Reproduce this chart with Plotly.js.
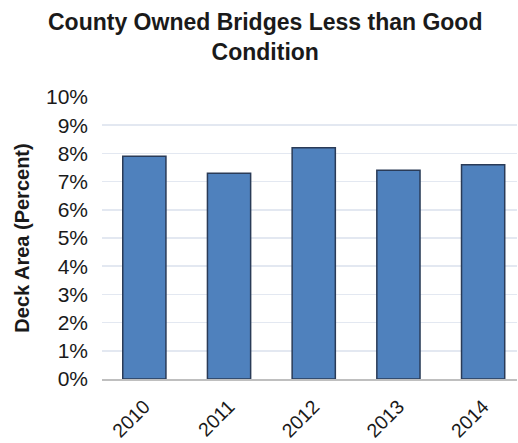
<!DOCTYPE html>
<html>
<head>
<meta charset="utf-8">
<script src="https://cdn.plot.ly/plotly-3.0.1.min.js"></script>
<style>
  html, body { margin: 0; padding: 0; background: #ffffff; }
  #chart { width: 518px; height: 443px; }
</style>
</head>
<body>
<div id="chart"></div>
<script>
const years = ["2010", "2011", "2012", "2013", "2014"];
const deckAreaPercent = [7.9, 7.3, 8.2, 7.4, 7.6];
const yTickValues = [0, 1, 2, 3, 4, 5, 6, 7, 8, 9, 10];
const yTickLabels = ["0%", "1%", "2%", "3%", "4%", "5%", "6%", "7%", "8%", "9%", "10%"];
const chartTitle = "County Owned Bridges Less than Good<br>Condition";
const yTitle = "Deck Area (Percent)";

const boldFont = "'Liberation Sans Narrow', 'Arial Narrow', 'Liberation Sans', Arial, sans-serif";
const regular = "'Liberation Sans', Arial, sans-serif";

const trace = {
  type: "bar",
  x: years,
  y: deckAreaPercent,
  width: 0.51,
  marker: { color: "#4f81bd", line: { color: "#2a3b57", width: 1.5 } },
  hoverinfo: "x+y"
};

const layout = {
  width: 518,
  height: 443,
  margin: { l: 102, r: 1, t: 97, b: 64 },
  paper_bgcolor: "#ffffff",
  plot_bgcolor: "#ffffff",
  showlegend: false,
  annotations: [{
    text: chartTitle,
    xref: "paper",
    yref: "paper",
    x: (265 - 102) / 415,
    y: (379 - 7) / 282,
    xanchor: "center",
    yanchor: "top",
    showarrow: false,
    align: "center",
    font: { family: boldFont, size: 23, color: "#1a1a1a", weight: "bold" }
  }],
  xaxis: {
    type: "category",
    range: [-0.5, 4.4],
    tickangle: -45,
    tickfont: { family: regular, size: 19.5, color: "#1a1a1a" },
    ticklabelstandoff: 7,
    showgrid: false,
    showline: true,
    linecolor: "#bfbfbf",
    linewidth: 1.5,
    ticks: "",
    zeroline: false,
    fixedrange: true
  },
  yaxis: {
    range: [0, 10],
    tickvals: yTickValues,
    ticktext: yTickLabels,
    tickfont: { family: regular, size: 21, color: "#1a1a1a" },
    ticklabelstandoff: 13,
    showgrid: true,
    gridcolor: "#e3e8f1",
    gridwidth: 1.5,
    zeroline: false,
    showline: false,
    ticks: "",
    ticklen: 0,
    automargin: false,
    title: {
      text: yTitle,
      font: { family: boldFont, size: 20, color: "#1a1a1a", weight: "bold" },
      standoff: 10
    },
    fixedrange: true
  },
  bargap: 0.49
};

Plotly.newPlot("chart", [trace], layout, { displayModeBar: false, staticPlot: true });
</script>
</body>
</html>
